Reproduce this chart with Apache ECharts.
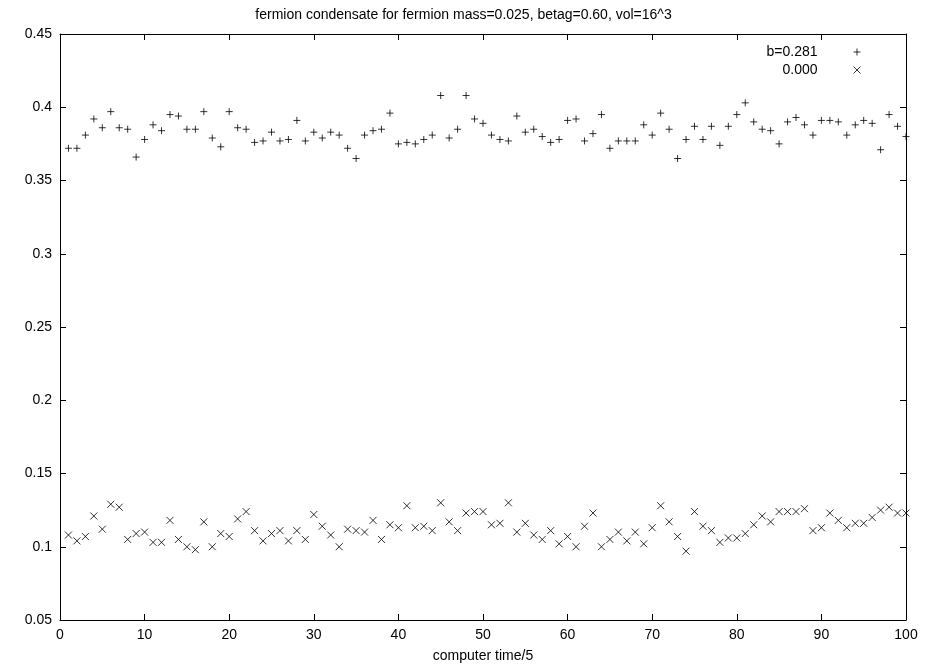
<!DOCTYPE html>
<html>
<head>
<meta charset="utf-8">
<script src="https://cdn.jsdelivr.net/npm/echarts@6/dist/echarts.min.js"></script>
<style>
  html, body { margin: 0; padding: 0; background: #fff; }
  #chart { width: 927px; height: 671px; }
</style>
</head>
<body>
<div id="chart"></div>
<script>
// computer time/5, one point per step
var steps = [];
for (var i = 1; i <= 100; i++) steps.push(i);

// b=0.281
var condB281 = [
  0.372, 0.372, 0.381, 0.392, 0.386, 0.397, 0.386, 0.385, 0.366, 0.378,
  0.388, 0.384, 0.395, 0.394, 0.385, 0.385, 0.397, 0.379, 0.373, 0.397,
  0.386, 0.385, 0.376, 0.377, 0.383, 0.377, 0.378, 0.391, 0.377, 0.383,
  0.379, 0.383, 0.381, 0.372, 0.365, 0.381, 0.384, 0.385, 0.396, 0.375,
  0.376, 0.375, 0.378, 0.381, 0.408, 0.379, 0.385, 0.408, 0.392, 0.389,
  0.381, 0.378, 0.377, 0.394, 0.383, 0.385, 0.380, 0.376, 0.378, 0.391,
  0.392, 0.377, 0.382, 0.395, 0.372, 0.377, 0.377, 0.377, 0.388, 0.381,
  0.396, 0.385, 0.365, 0.378, 0.387, 0.378, 0.387, 0.374, 0.387, 0.395,
  0.403, 0.390, 0.385, 0.384, 0.375, 0.390, 0.393, 0.388, 0.381, 0.391,
  0.391, 0.390, 0.381, 0.388, 0.391, 0.389, 0.371, 0.395, 0.387, 0.380
];

// 0.000
var cond000 = [
  0.108, 0.104, 0.107, 0.121, 0.112, 0.129, 0.127, 0.105, 0.109, 0.110,
  0.103, 0.103, 0.118, 0.105, 0.100, 0.098, 0.117, 0.100, 0.109, 0.107,
  0.119, 0.124, 0.111, 0.104, 0.109, 0.111, 0.104, 0.111, 0.105, 0.122,
  0.114, 0.108, 0.100, 0.112, 0.111, 0.110, 0.118, 0.105, 0.115, 0.113,
  0.128, 0.113, 0.114, 0.111, 0.130, 0.117, 0.111, 0.123, 0.124, 0.124,
  0.115, 0.116, 0.130, 0.110, 0.116, 0.108, 0.105, 0.111, 0.102, 0.107,
  0.100, 0.114, 0.123, 0.100, 0.105, 0.110, 0.104, 0.110, 0.102, 0.113,
  0.128, 0.117, 0.107, 0.097, 0.124, 0.114, 0.111, 0.103, 0.106, 0.106,
  0.109, 0.115, 0.121, 0.117, 0.124, 0.124, 0.124, 0.126, 0.111, 0.113,
  0.123, 0.118, 0.113, 0.116, 0.116, 0.120, 0.125, 0.127, 0.123, 0.123
];

var seriesNames = ['b=0.281', '0.000'];
var titleText = 'fermion condensate for fermion mass=0.025, betag=0.60, vol=16^3';
var xName = 'computer time/5';

var plusPath = 'path://M0,5L10,5M5,0L5,10';
var crossPath = 'path://M0,0L10,10M10,0L0,10';

function pairs(ys) {
  return ys.map(function (y, k) { return [steps[k], y]; });
}

var font = '"Liberation Sans", Arial, sans-serif';
var markStyle = { color: 'none', borderColor: '#000', borderWidth: 1 };
var black = { color: '#000', width: 1 };

// gnuplot style frame: ticks pointing inward on all four sides
function frameAxis(pos, min, max, step, showLabels) {
  return {
    type: 'value', position: pos, min: min, max: max, interval: step,
    axisLine: { show: true, onZero: false, lineStyle: black },
    axisTick: { show: true, inside: true, length: 6, lineStyle: black },
    axisLabel: { show: showLabels, fontFamily: font, fontSize: 14, color: '#000', margin: 8 },
    splitLine: { show: false }
  };
}

var chart = echarts.init(document.getElementById('chart'), null, { renderer: 'canvas' });

var xBottom = frameAxis('bottom', 0, 100, 10, true);
xBottom.name = xName;
xBottom.nameLocation = 'middle';
xBottom.nameGap = 29;
xBottom.nameTextStyle = { fontFamily: font, fontSize: 14, color: '#000' };

var option = {
  backgroundColor: '#fff',
  animation: false,
  title: {
    text: titleText, left: 'center', top: 3,
    textStyle: { fontFamily: font, fontSize: 14, fontWeight: 'normal', color: '#000' }
  },
  legend: {
    orient: 'vertical', right: 59, top: 40, align: 'right',
    itemGap: 4, itemWidth: 7, itemHeight: 7,
    textStyle: {
      fontFamily: font, fontSize: 14, color: '#000',
      width: 60, align: 'right', padding: [0, 31, 0, 0]
    },
    data: [
      { name: seriesNames[0], icon: plusPath, itemStyle: markStyle },
      { name: seriesNames[1], icon: crossPath, itemStyle: markStyle }
    ]
  },
  grid: { left: 60, right: 21, top: 34, bottom: 51 },
  xAxis: [xBottom, frameAxis('top', 0, 100, 10, false)],
  yAxis: [
    frameAxis('left', 0.05, 0.45, 0.05, true),
    frameAxis('right', 0.05, 0.45, 0.05, false)
  ],
  series: [
    {
      name: seriesNames[0], type: 'scatter', symbol: plusPath, symbolSize: 7,
      itemStyle: markStyle, data: pairs(condB281)
    },
    {
      name: seriesNames[1], type: 'scatter', symbol: crossPath, symbolSize: 7,
      itemStyle: markStyle, data: pairs(cond000)
    }
  ]
};

chart.setOption(option);
</script>
</body>
</html>
